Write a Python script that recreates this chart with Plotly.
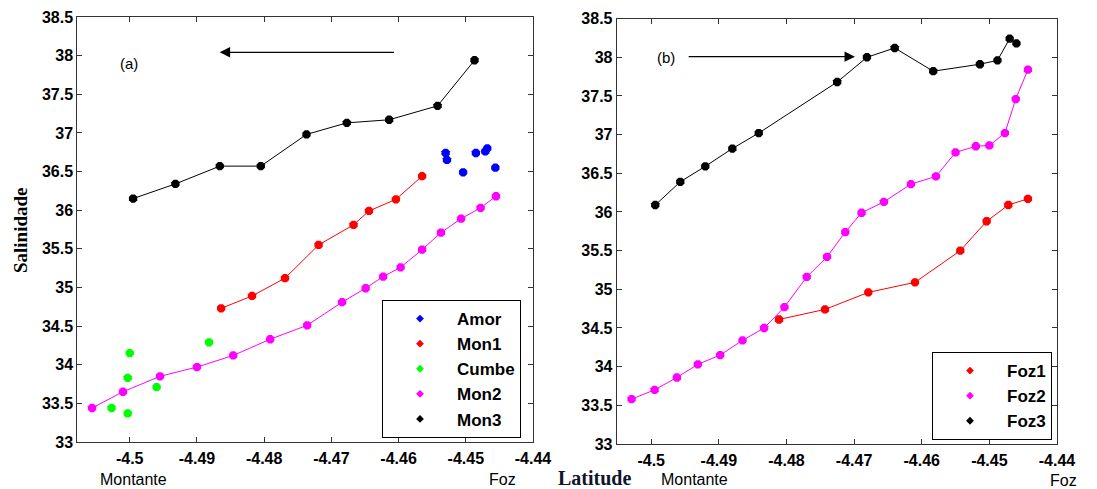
import plotly.graph_objects as go

# ---------------- data (panel a) ----------------
amor_x = [-4.4530, -4.4528, -4.4504, -4.4485, -4.4471, -4.4468, -4.4456]
amor_y = [36.74, 36.65, 36.49, 36.74, 36.76, 36.80, 36.55]
mon1_x = [-4.4864, -4.4818, -4.4769, -4.4719, -4.4667, -4.4644, -4.4604, -4.4565]
mon1_y = [34.73, 34.89, 35.12, 35.55, 35.81, 35.99, 36.14, 36.44]
cumbe_x = [-4.5027, -4.5003, -4.5003, -4.5000, -4.4960, -4.4882]
cumbe_y = [33.44, 33.37, 33.83, 34.15, 33.71, 34.29]
mon2_x = [-4.5056, -4.5010, -4.4955, -4.4900, -4.4846, -4.4791, -4.4736, -4.4684,
          -4.4649, -4.4623, -4.4597, -4.4565, -4.4537, -4.4507, -4.4478, -4.4455]
mon2_y = [33.44, 33.65, 33.85, 33.97, 34.12, 34.33, 34.51, 34.81,
          34.99, 35.14, 35.26, 35.49, 35.71, 35.89, 36.03, 36.18]
mon3_x = [-4.4995, -4.4932, -4.4866, -4.4805, -4.4737, -4.4677, -4.4614, -4.4542, -4.4487]
mon3_y = [36.15, 36.34, 36.57, 36.57, 36.98, 37.13, 37.17, 37.35, 37.94]

# ---------------- data (panel b) ----------------
foz1_x = [-4.4811, -4.4743, -4.4679, -4.4610, -4.4543, -4.4504, -4.4472, -4.4443]
foz1_y = [34.61, 34.74, 34.96, 35.09, 35.50, 35.88, 36.09, 36.17]
foz2_x = [-4.5029, -4.4995, -4.4962, -4.4931, -4.4898, -4.4865, -4.4833, -4.4803,
          -4.4770, -4.4740, -4.4713, -4.4689, -4.4656, -4.4616, -4.4579, -4.4550,
          -4.4520, -4.4500, -4.4477, -4.4461, -4.4443]
foz2_y = [33.58, 33.70, 33.86, 34.03, 34.15, 34.34, 34.50, 34.77,
          35.16, 35.42, 35.74, 35.99, 36.13, 36.36, 36.46, 36.77,
          36.85, 36.86, 37.02, 37.46, 37.84]
foz3_x = [-4.4994, -4.4957, -4.4920, -4.4880, -4.4841, -4.4725, -4.4681, -4.4640,
          -4.4583, -4.4514, -4.4488, -4.4470, -4.4460]
foz3_y = [36.09, 36.39, 36.59, 36.82, 37.02, 37.68, 38.00, 38.12,
          37.82, 37.91, 37.96, 38.24, 38.18]

# ---------------- ticks ----------------
x_tickvals = [-4.50, -4.49, -4.48, -4.47, -4.46, -4.45, -4.44]
x_ticktext = ["-4.5", "-4.49", "-4.48", "-4.47", "-4.46", "-4.45", "-4.44"]
y_tickvals = [33, 33.5, 34, 34.5, 35, 35.5, 36, 36.5, 37, 37.5, 38, 38.5]
y_ticktext = ["33", "33.5", "34", "34.5", "35", "35.5", "36", "36.5", "37", "37.5", "38", "38.5"]

left_series = [
    ("Amor", amor_x, amor_y, "#0000ff", "markers"),
    ("Mon1", mon1_x, mon1_y, "#ff0000", "lines+markers"),
    ("Cumbe", cumbe_x, cumbe_y, "#00ff00", "markers"),
    ("Mon2", mon2_x, mon2_y, "#ff00ff", "lines+markers"),
    ("Mon3", mon3_x, mon3_y, "#000000", "lines+markers"),
]
right_series = [
    ("Foz1", foz1_x, foz1_y, "#ff0000", "lines+markers"),
    ("Foz2", foz2_x, foz2_y, "#ff00ff", "lines+markers"),
    ("Foz3", foz3_x, foz3_y, "#000000", "lines+markers"),
]

W, H = 1097, 489
fig = go.Figure()

MSYM = "octagon"
MSIZE = 9

for name, xs, ys, col, mode in left_series:
    fig.add_trace(go.Scatter(x=xs, y=ys, mode=mode, name=name, showlegend=False,
                             line=dict(color=col, width=1),
                             marker=dict(color=col, symbol=MSYM, size=MSIZE, line=dict(width=0)),
                             xaxis="x", yaxis="y"))
    fig.add_trace(go.Scatter(x=[None], y=[None], mode="markers", name=name,
                             legend="legend", legendgroup=name,
                             marker=dict(color=col, symbol="diamond", size=6, line=dict(width=0)),
                             xaxis="x", yaxis="y"))

for name, xs, ys, col, mode in right_series:
    fig.add_trace(go.Scatter(x=xs, y=ys, mode=mode, name=name, showlegend=False,
                             line=dict(color=col, width=1),
                             marker=dict(color=col, symbol=MSYM, size=MSIZE, line=dict(width=0)),
                             xaxis="x2", yaxis="y2"))
    fig.add_trace(go.Scatter(x=[None], y=[None], mode="markers", name=name,
                             legend="legend2", legendgroup=name,
                             marker=dict(color=col, symbol="diamond", size=6, line=dict(width=0)),
                             xaxis="x2", yaxis="y2"))

tickfont = dict(family="Liberation Sans, Arial", size=16, color="black")
axis_common = dict(showgrid=False, zeroline=False, showline=True, linecolor="#333333",
                   linewidth=1, mirror="ticks", ticks="inside", ticklen=5,
                   tickcolor="#333333", tickfont=tickfont, automargin=False)

xt_b = ["<b>%s</b>" % t for t in x_ticktext]
yt_b = ["<b>%s</b>" % t for t in y_ticktext]

legfont = dict(family="Liberation Sans, Arial", size=17, color="black", weight="bold")

fig.update_layout(
    width=W, height=H,
    margin=dict(l=0, r=0, t=0, b=0, pad=0, autoexpand=False),
    paper_bgcolor="white", plot_bgcolor="white",
    xaxis=dict(domain=[77.3 / W, 533 / W], range=[-4.5078, -4.44],
               tickvals=x_tickvals, ticktext=xt_b, anchor="y", ticklabelstandoff=2, **axis_common),
    yaxis=dict(domain=[1 - 442 / H, 1 - 17 / H], range=[33, 38.5],
               tickvals=y_tickvals, ticktext=yt_b, anchor="x", **axis_common),
    xaxis2=dict(domain=[616.7 / W, 1057 / W], range=[-4.5051, -4.44],
                tickvals=x_tickvals, ticktext=xt_b, anchor="y2", ticklabelstandoff=2, **axis_common),
    yaxis2=dict(domain=[1 - 444 / H, 1 - 18.6 / H], range=[33, 38.5],
                tickvals=y_tickvals, ticktext=yt_b, anchor="x2", **axis_common),
    legend=dict(x=382 / W, y=1 - 300 / H, xanchor="left", yanchor="top",
                bgcolor="white", bordercolor="black", borderwidth=1, font=legfont,
                itemwidth=64, tracegroupgap=0, traceorder="grouped"),
    legend2=dict(x=932 / W, y=1 - 352 / H, xanchor="left", yanchor="top",
                 bgcolor="white", bordercolor="black", borderwidth=1, font=legfont,
                 itemwidth=64, tracegroupgap=0, traceorder="grouped"),
)

plain = dict(family="Liberation Sans, Arial", size=16, color="black")


def txt(text, px, py, font, angle=0):
    return dict(text=text, x=px / W, y=1 - py / H, xref="paper", yref="paper",
                xanchor="center", yanchor="middle", showarrow=False, textangle=angle, font=font)


ann = [
    txt("Salinidade", 20, 230,
        dict(family="Liberation Serif, Times New Roman", size=19, color="black", weight="bold"), -90),
    txt("Latitude", 594, 478,
        dict(family="Liberation Serif, Times New Roman", size=20, color="#10152a", weight="bold")),
    txt("Montante", 133, 479, plain),
    txt("Foz", 502, 479, plain),
    txt("Montante", 694, 479, plain),
    txt("Foz", 1063, 480, plain),
    txt("(a)", 129, 63, dict(family="Liberation Sans, Arial", size=15, color="black")),
    txt("(b)", 666, 57, dict(family="Liberation Sans, Arial", size=15, color="black")),
    dict(x=-4.48661, y=38.043, ax=-4.46046, ay=38.043, xref="x", yref="y", axref="x", ayref="y",
         text="", showarrow=True, arrowhead=2, arrowsize=1.6, arrowwidth=1.3, arrowcolor="black"),
    dict(x=-4.46987, y=38.008, ax=-4.49468, ay=38.008, xref="x2", yref="y2", axref="x2", ayref="y2",
         text="", showarrow=True, arrowhead=2, arrowsize=1.6, arrowwidth=1.3, arrowcolor="black"),
]
fig.update_layout(annotations=ann)

fig.write_html("out.html")
